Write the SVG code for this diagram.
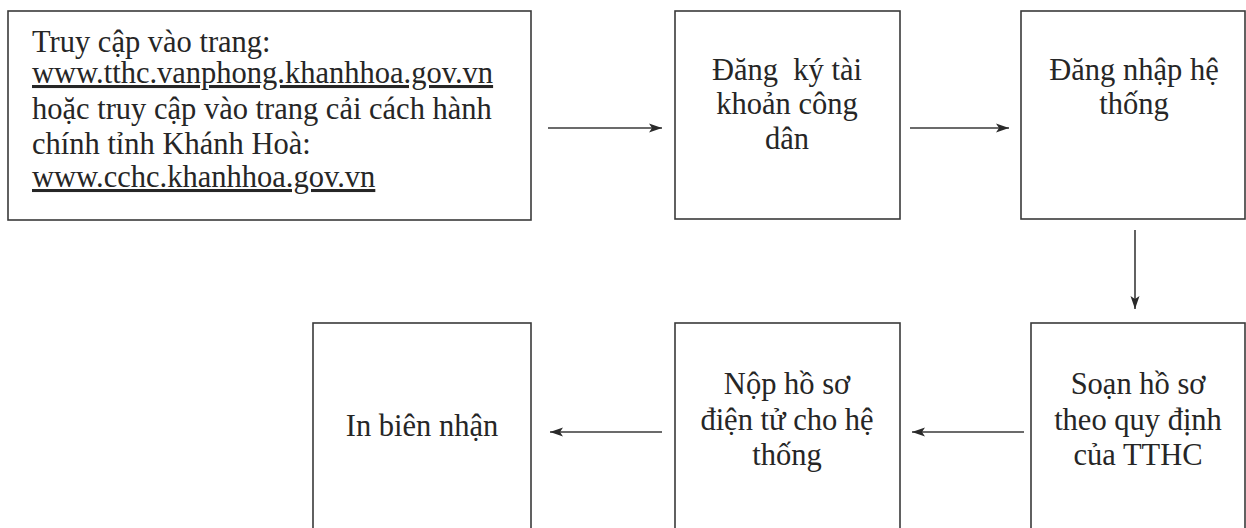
<svg xmlns="http://www.w3.org/2000/svg" width="1246" height="528" viewBox="0 0 1246 528">
<style>
.box{fill:#fff;stroke:#3a3a3a;stroke-width:1.6}
.t{font-family:"Liberation Serif","Times New Roman",serif;font-size:30.5px;fill:#262626}
.c{text-anchor:middle}
.u{text-decoration:underline}
.conn{stroke:#3a3a3a;stroke-width:1.6;fill:none;marker-end:url(#ah)}
</style>
<defs>
<marker id="ah" viewBox="0 0 13 10" refX="13" refY="5" markerWidth="13" markerHeight="10" markerUnits="userSpaceOnUse" orient="auto">
<path d="M0,0.5 L13,5 L0,9.5 L3,5 Z" fill="#2a2a2a"/>
</marker>
</defs>
<rect width="1246" height="528" fill="#fff"/>
<g id="n1">
<rect class="box" x="8" y="11" width="523" height="209"/>
<text class="t" x="32" y="52">Truy cập vào trang:</text>
<text class="t u" x="32" y="83">www.tthc.vanphong.khanhhoa.gov.vn</text>
<text class="t" x="32" y="119">hoặc truy cập vào trang cải cách hành</text>
<text class="t" x="32" y="154">chính tỉnh Khánh Hoà:</text>
<text class="t u" x="32" y="187">www.cchc.khanhhoa.gov.vn</text>
</g>
<g id="n2">
<rect class="box" x="675" y="11" width="225" height="208"/>
<text class="t c" x="787" y="80" xml:space="preserve">Đăng  ký tài</text>
<text class="t c" x="787" y="114">khoản công</text>
<text class="t c" x="787" y="149">dân</text>
</g>
<g id="n3">
<rect class="box" x="1021" y="11" width="224" height="208"/>
<text class="t c" x="1134" y="80">Đăng nhập hệ</text>
<text class="t c" x="1134" y="114">thống</text>
</g>
<g id="n4">
<rect class="box" x="1031" y="323" width="214" height="230"/>
<text class="t c" x="1138" y="394">Soạn hồ sơ</text>
<text class="t c" x="1138" y="430">theo quy định</text>
<text class="t c" x="1138" y="465">của TTHC</text>
</g>
<g id="n5">
<rect class="box" x="675" y="323" width="225" height="230"/>
<text class="t c" x="787" y="394">Nộp hồ sơ</text>
<text class="t c" x="787" y="430">điện tử cho hệ</text>
<text class="t c" x="787" y="465">thống</text>
</g>
<g id="n6">
<rect class="box" x="313" y="323" width="218" height="230"/>
<text class="t c" x="422" y="436">In biên nhận</text>
</g>
<g id="connectors">
<line class="conn" x1="548" y1="128" x2="662" y2="128"/>
<line class="conn" x1="910" y1="128" x2="1009" y2="128"/>
<line class="conn" x1="1135" y1="230" x2="1135" y2="309"/>
<line class="conn" x1="1024" y1="432" x2="912" y2="432"/>
<line class="conn" x1="662" y1="432" x2="550" y2="432"/>
</g>
</svg>
